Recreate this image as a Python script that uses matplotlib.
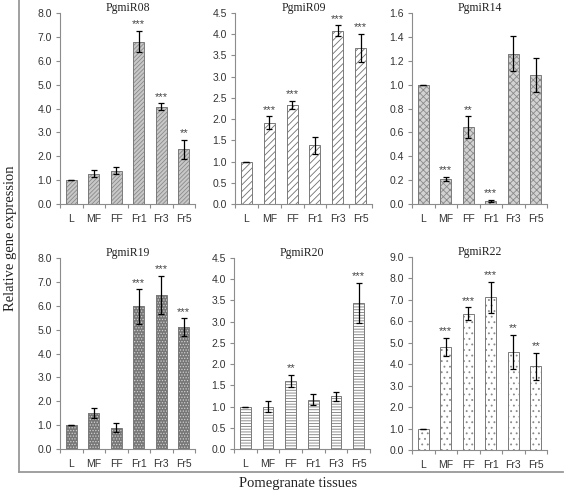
import matplotlib
matplotlib.use("Agg")
import matplotlib.pyplot as plt
import numpy as np

categories = ["L", "MF", "FF", "Fr1", "Fr3", "Fr5"]

titles = ["PgmiR08", "PgmiR09", "PgmiR14", "PgmiR19", "PgmiR20", "PgmiR22"]

r08_vals = [1.0, 1.27, 1.40, 6.80, 4.07, 2.30]
r08_errs = [0.0, 0.15, 0.15, 0.45, 0.15, 0.40]
r08_stars = ["", "", "", "***", "***", "**"]

r09_vals = [1.0, 1.92, 2.33, 1.38, 4.08, 3.68]
r09_errs = [0.0, 0.15, 0.10, 0.20, 0.13, 0.33]
r09_stars = ["", "***", "***", "", "***", "***"]

r14_vals = [1.0, 0.21, 0.645, 0.025, 1.26, 1.08]
r14_errs = [0.0, 0.02, 0.09, 0.01, 0.15, 0.14]
r14_stars = ["", "***", "**", "***", "", ""]

r19_vals = [1.0, 1.50, 0.90, 5.97, 6.45, 5.10]
r19_errs = [0.0, 0.22, 0.18, 0.72, 0.80, 0.38]
r19_stars = ["", "", "", "***", "***", "***"]

r20_vals = [1.0, 1.00, 1.60, 1.16, 1.24, 3.44]
r20_errs = [0.0, 0.12, 0.15, 0.13, 0.10, 0.48]
r20_stars = ["", "", "**", "", "", "***"]

r22_vals = [1.0, 4.80, 6.35, 7.12, 4.57, 3.90]
r22_errs = [0.0, 0.43, 0.30, 0.72, 0.80, 0.62]
r22_stars = ["", "***", "***", "***", "**", "**"]

y_max = [8.0, 4.5, 1.6, 8.0, 4.5, 9.0]
y_step = [1.0, 0.5, 0.2, 1.0, 0.5, 1.0]

data = [
    (r08_vals, r08_errs, r08_stars),
    (r09_vals, r09_errs, r09_stars),
    (r14_vals, r14_errs, r14_stars),
    (r19_vals, r19_errs, r19_stars),
    (r20_vals, r20_errs, r20_stars),
    (r22_vals, r22_errs, r22_stars),
]

# styles: (facecolor, hatch, hatchcolor)
styles = [
    ("#c8c8c8", "////////", "#8a8a8a"),
    ("#ffffff", "/////", "#707070"),
    ("#d2d2d2", "xxxxx", "#8a8a8a"),
    ("#767676", "......", "#d0d0d0"),
    ("#ffffff", "------", "#7a7a7a"),
    ("#ffffff", "...", "#8a8a8a"),
]

W, H = 567, 494
fig = plt.figure(figsize=(W / 100, H / 100), dpi=100)
plt.rcParams["hatch.linewidth"] = 0.6

# axes pixel boxes: (x0, x1, ytop, ybottom)
boxes = [
    (60, 195, 13, 204),
    (235, 372, 13, 204),
    (412, 547, 13, 204),
    (60, 195, 258, 449),
    (234, 370, 258, 449),
    (412, 547, 257, 450),
]

sans = ["Liberation Sans", "DejaVu Sans"]
serif = ["Liberation Serif", "DejaVu Serif"]
axis_gray = "#8c8c8c"

x = np.arange(len(categories))
for i, (box, (vals, errs, stars)) in enumerate(zip(boxes, data)):
    x0, x1, yt, yb = box
    ax = fig.add_axes([x0 / W, 1 - yb / H, (x1 - x0) / W, (yb - yt) / H])
    fc, hatch, hc = styles[i]
    ax.bar(x, vals, width=0.48, color=fc, edgecolor=hc, hatch=hatch, linewidth=0, zorder=2)
    ax.bar(x, vals, width=0.48, color="none", edgecolor="#7a7a7a", linewidth=0.7, zorder=3)
    ax.errorbar(x, vals, yerr=errs, fmt="none", ecolor="black", elinewidth=0.9,
                capsize=2.2, capthick=0.9, zorder=4)
    for xi, v, e, s in zip(x, vals, errs, stars):
        if s:
            ax.text(xi, v + e + y_max[i] * 0.008, s, ha="center", va="bottom",
                    fontsize=8, color="#444444", family=sans)
    ax.set_xlim(-0.5, len(categories) - 0.5)
    ax.set_ylim(0, y_max[i])
    ticks = np.arange(0, y_max[i] + 1e-9, y_step[i])
    ax.set_yticks(ticks)
    ax.set_yticklabels(["%.1f" % t for t in ticks], family=sans, fontsize=7.5, color="#333333")
    ax.set_xticks(x)
    ax.set_xticklabels(categories, family=sans, fontsize=7.5, color="#333333")
    ax.set_xticks(np.arange(-0.5, len(categories), 1.0), minor=True)
    ax.tick_params(axis="x", which="major", length=0, pad=7)
    ax.tick_params(axis="x", which="minor", length=3, color=axis_gray, width=0.8, direction="out")
    ax.tick_params(axis="y", length=3, color=axis_gray, width=0.8, direction="out", pad=3)
    for sp in ["top", "right"]:
        ax.spines[sp].set_visible(False)
    for sp in ["left", "bottom"]:
        ax.spines[sp].set_color(axis_gray)
        ax.spines[sp].set_linewidth(0.8)
    ax.patch.set_alpha(0)
    ax.text(0.5, 1.0 + 5 / (yb - yt), titles[i], transform=ax.transAxes, ha="center",
            va="center", fontsize=8.5, family=serif, color="#222222")

# outer frame lines
fig.add_artist(plt.Line2D([19 / W, 19 / W], [1 - 0 / H, 1 - 472 / H], color="#999999", lw=1.3,
                          transform=fig.transFigure))
fig.add_artist(plt.Line2D([19 / W, 563 / W], [1 - 472 / H, 1 - 472 / H], color="#999999", lw=1.3,
                          transform=fig.transFigure))

fig.text(11 / W, 1 - 238 / H, "Relative gene expression", rotation=90, ha="center", va="center",
         fontsize=10.5, family=serif, color="#222222")
fig.text(298 / W, 1 - 483 / H, "Pomegranate tissues", ha="center", va="center",
         fontsize=10.5, family=serif, color="#222222")

fig.savefig("out.png", dpi=100, facecolor="white")
